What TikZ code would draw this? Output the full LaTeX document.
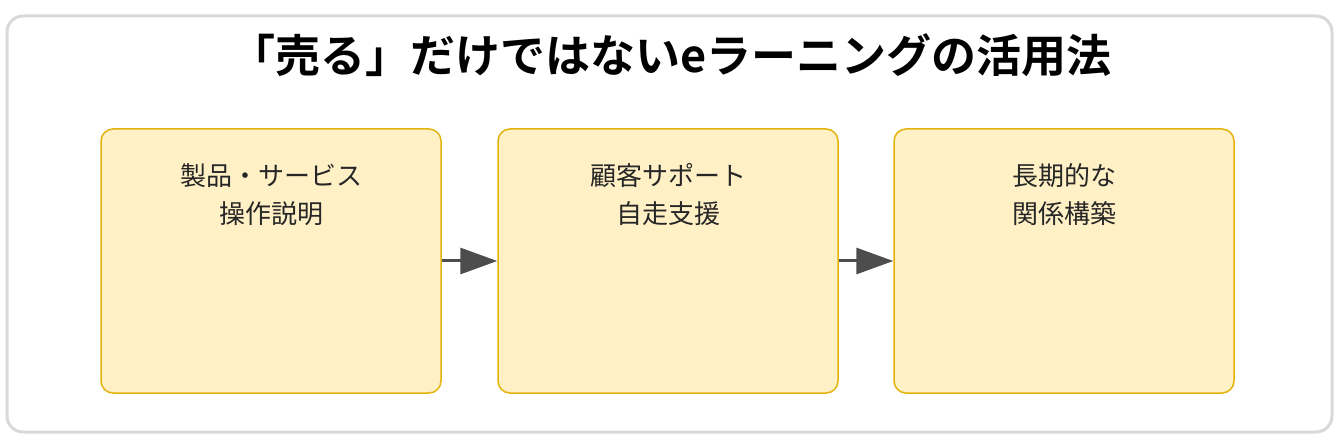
\documentclass[tikz,border=0pt]{standalone}
\usepackage{fontspec}
\newfontfamily\cjk{Noto Sans CJK JP}
\newfontfamily\cjkb{Noto Sans CJK JP Bold}
\usetikzlibrary{arrows.meta}
\definecolor{boxfill}{HTML}{FFF0C6}
\definecolor{boxline}{HTML}{E2B30B}
\definecolor{arrowc}{HTML}{4D4D4D}
\definecolor{frame}{HTML}{D9D9D9}
\tikzset{
  stepbox/.style={draw=boxline, fill=boxfill, line width=1.5pt, rounded corners=12pt, minimum width=340pt, minimum height=264pt, inner sep=0pt},
  boxtext/.style={font=\cjk\fontsize{26}{38}\selectfont, align=center, text=black!85},
  flow/.style={draw=arrowc, line width=3pt, -{Triangle[length=37pt, width=26pt]}}
}
\begin{document}
\begin{tikzpicture}[x=1pt,y=1pt]
\useasboundingbox (0,0) rectangle (1340,-443);
\draw[frame, line width=3pt, rounded corners=16pt] (7,-16) rectangle (1332,-432);
\node (title) at (671,-55) {\cjkb\fontsize{45}{45}\selectfont 「売る」だけではないeラーニングの活用法};
\node[stepbox] (b1) at (271,-261) {};
\node[stepbox] (b2) at (668,-261) {};
\node[stepbox] (b3) at (1064,-261) {};
\node[boxtext] (t1) at (271,-195) {製品・サービス\\操作説明};
\node[boxtext] (t2) at (668,-195) {顧客サポート\\自走支援};
\node[boxtext] (t3) at (1064,-195) {長期的な\\関係構築};
\draw[flow] (b1.east) -- (b2.west);
\draw[flow] (b2.east) -- (b3.west);
\end{tikzpicture}
\end{document}
